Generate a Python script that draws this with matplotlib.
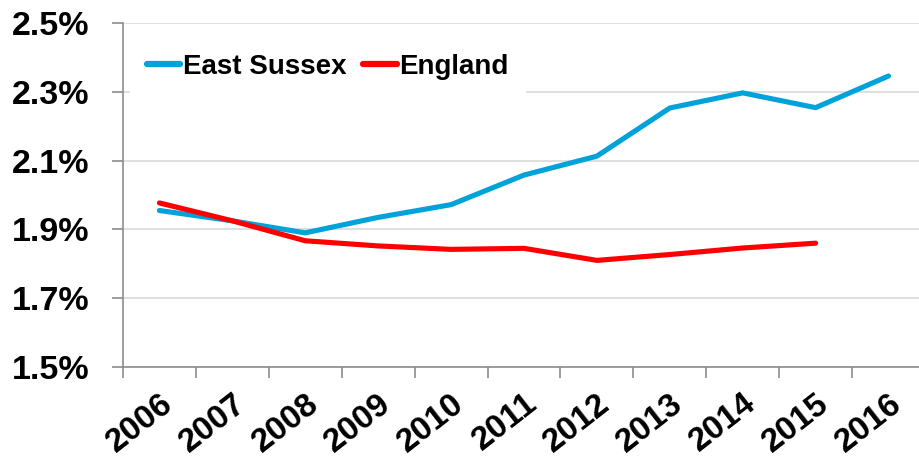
import numpy as np
import matplotlib.pyplot as plt

plt.rcParams['font.family'] = ['Liberation Sans', 'DejaVu Sans']
plt.rcParams['font.weight'] = 'bold'

# Data (%)
years = ['2006', '2007', '2008', '2009', '2010', '2011', '2012', '2013', '2014', '2015', '2016']
east_sussex = [1.955, 1.925, 1.89, 1.935, 1.972, 2.058, 2.113, 2.253, 2.297, 2.254, 2.346]
england = [1.977, 1.925, 1.867, 1.852, 1.842, 1.845, 1.81, 1.827, 1.846, 1.86, np.nan]

x = np.arange(len(years))

fig = plt.figure(figsize=(9.19, 4.61), dpi=100)
ax = fig.add_axes([0.1338, 0.2039, 0.8727, 0.7461])

ax.plot(x, east_sussex, color='#00A2DA', lw=3.7, solid_capstyle='round', label='East Sussex', zorder=3)
ax.plot(x, england, color='#FF0000', lw=3.7, solid_capstyle='round', label='England', zorder=3)

ax.set_xlim(-0.5, len(years) - 0.5)
ax.set_ylim(1.5, 2.5)
ax.set_yticks(np.arange(1.5, 2.51, 0.2))
ax.set_yticklabels([f'{v:.1f}%' for v in np.arange(1.5, 2.51, 0.2)], fontsize=24.5, fontweight='bold')

# category ticks between labels, labels at centers
ax.set_xticks(np.arange(-0.5, len(years), 1.0))
ax.set_xticklabels([])
ax.set_xticks(x, minor=True)
ax.set_xticklabels(years, minor=True, rotation=38, ha='right', va='top',
                   rotation_mode='anchor', fontsize=24, fontweight='bold')
ax.tick_params(axis='x', which='minor', length=0, pad=15)
ax.tick_params(axis='x', which='major', length=8, width=1.2, color='#8c8c8c')
ax.tick_params(axis='y', length=8, width=1.2, color='#8c8c8c', pad=16)

ax.grid(axis='y', color='#d9d9d9', lw=1.2, zorder=0)
ax.set_axisbelow(True)
for s in ['top', 'right']:
    ax.spines[s].set_visible(False)
for s in ['left', 'bottom']:
    ax.spines[s].set_color('#8c8c8c')
    ax.spines[s].set_linewidth(1.2)

leg = ax.legend(loc='upper left', bbox_to_anchor=(-0.008, 1.0), ncol=2, frameon=True,
                fontsize=20, handlelength=1.2, handletextpad=0.1, columnspacing=0.6,
                borderpad=0.6, fancybox=False)
leg.get_frame().set_edgecolor('none')
leg.get_frame().set_facecolor('white')
leg.get_frame().set_alpha(1.0)
for t in leg.get_texts():
    t.set_fontweight('bold')
for h in leg.get_lines():
    h.set_linewidth(4.5)

plt.savefig('out.png', dpi=100)
